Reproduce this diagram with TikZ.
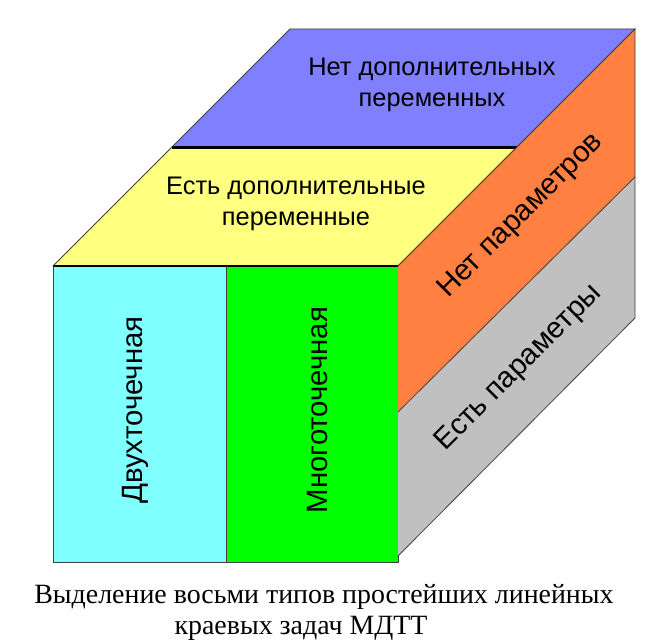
\documentclass[tikz,border=0pt]{standalone}
\usepackage{fontspec}
\usepackage{xcolor}
\setmainfont{Liberation Serif}
\newfontfamily\labelFont{Liberation Sans}
\definecolor{faceColorA}{HTML}{80FFFF}
\definecolor{faceColorB}{HTML}{00FF00}
\definecolor{faceColorC}{HTML}{FFFF80}
\definecolor{faceColorD}{HTML}{8080FF}
\definecolor{faceColorE}{HTML}{FF8040}
\definecolor{faceColorF}{HTML}{C0C0C0}
\definecolor{edgeColor}{HTML}{404040}
\def\textA{Двухточечная}
\def\textB{Многоточечная}
\def\textC{Есть дополнительные\\переменные}
\def\textD{Нет дополнительных\\переменных}
\def\textE{Нет параметров}
\def\textF{Есть параметры}
\tikzset{
faceLabel/.style={font=\labelFont\fontsize{25.5}{31}\selectfont, inner sep=0pt, align=center},
sideLabel/.style={font=\labelFont\fontsize{29.5}{31}\selectfont, inner sep=0pt},
captionLine/.style={font=\fontsize{28}{32}\selectfont, inner sep=0pt, anchor=center},
}

\begin{document}
\begin{tikzpicture}[x=1bp,y=-1bp]
\useasboundingbox (0, 0) rectangle (650, 644);

% corners of the cube
\coordinate (frontTL) at (53, 266);
\coordinate (frontTR) at (398, 266);
\coordinate (frontBL) at (53, 562);
\coordinate (frontBR) at (398, 562);
\coordinate (frontTM) at (226, 266);
\coordinate (frontBM) at (226, 562);
\coordinate (backTL) at (290, 29);
\coordinate (backTR) at (635, 29);
\coordinate (topML) at (171.5, 147.5);
\coordinate (topMR) at (516.5, 147.5);
\coordinate (sideMF) at (398, 412);
\coordinate (sideMB) at (635, 177);
\coordinate (sideBF) at (398, 556);
\coordinate (sideBB) at (635, 318);

% front face
\begin{scope}
\fill[faceColorA] (frontTL) rectangle (frontBM);
\fill[faceColorB] (frontTM) rectangle (frontBR);
\draw[edgeColor, thick] (frontTL) rectangle (frontBR);
\draw[edgeColor, thick] (frontTM) -- (frontBM);
\end{scope}

% top face
\begin{scope}
\fill[faceColorC] (frontTL) -- (frontTR) -- (topMR) -- (topML) -- cycle;
\fill[faceColorD] (topML) -- (topMR) -- (backTR) -- (backTL) -- cycle;
\draw[edgeColor, thick] (frontTL) -- (backTL) -- (backTR) -- (frontTR);
\draw[very thick] (frontTL) -- (frontTR);
\draw[line width=2.2bp] (topML) -- (topMR);
\end{scope}

% side face
\begin{scope}
\fill[faceColorE] (frontTR) -- (backTR) -- (sideMB) -- (sideMF) -- cycle;
\fill[faceColorF] (sideMF) -- (sideMB) -- (sideBB) -- (sideBF) -- cycle;
\draw[edgeColor, thick] (frontTR) -- (backTR) -- (sideBB) -- (sideBF);
\draw[edgeColor, thick] (sideMF) -- (sideMB);
\end{scope}

% label layer
\begin{scope}
\node[sideLabel, rotate=90] (labelA) at (135, 410) {\textA};
\node[sideLabel, rotate=90] (labelB) at (318, 410) {\textB};
\node[faceLabel] (labelC) at (296, 204) {\textC};
\node[faceLabel] (labelD) at (432, 85) {\textD};
\node[sideLabel, rotate=45] (labelE) at (521, 216) {\textE};
\node[sideLabel, rotate=45] (labelF) at (519, 368) {\textF};
\end{scope}

% caption
\node[captionLine] (captionA) at (324, 597) {Выделение восьми типов простейших линейных};
\node[captionLine] (captionB) at (301, 628) {краевых задач МДТТ};

\end{tikzpicture}
\end{document}
